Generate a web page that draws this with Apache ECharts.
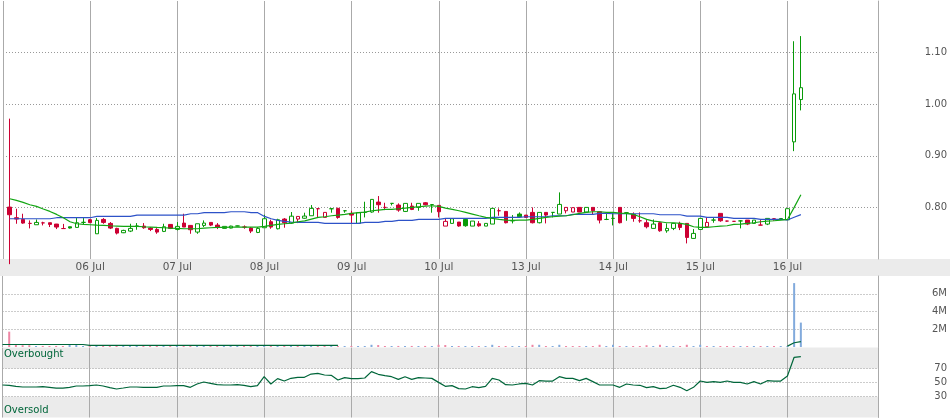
<!DOCTYPE html>
<html><head><meta charset="utf-8">
<script src="https://cdn.jsdelivr.net/npm/echarts@6.0.0/dist/echarts.min.js"></script>
<style>html,body{margin:0;padding:0;background:#fff}#c{width:950px;height:418px}</style>
</head><body><div id="c"></div>
<script>
// ---- data ----
const dayLabels = ['06 Jul','07 Jul','08 Jul','09 Jul','10 Jul','13 Jul','14 Jul','15 Jul','16 Jul'];
const barsPerDay = 13;
const firstBar = 1;           // bar index of the first candle
const lastSlot = 130.5;       // visible bar slots on the time axis
const opens = [.8006,.7800,.7767,.7690,.7664,.7700,.7703,.7677,.7590,.7625,.7612,.7710,.7761,.7489,.7767,.7690,.7593,.7509,.7541,.7638,
.7638,.7599,.7573,.7535,.7670,.7573,.7696,.7651,.7522,.7651,.7709,.7657,.7593,.7599,.7640,.7619,.7599,.7515,.7606,.7722,
.7586,.7774,.7696,.7774,.7790,.7838,.7975,.7806,.7974,.7981,.7935,.7884,.7690,.7903,.7910,.8103,.8000,.8078,.8045,.7922,
.8026,.8000,.8090,.8055,.8039,.7638,.7690,.7716,.7767,.7638,.7683,.7638,.7677,.7935,.7922,.7741,.7871,.7851,.7903,.7703,
.7903,.7903,.7871,.7935,.7910,.8000,.7910,.8000,.7916,.7767,.7787,.8000,.7897,.7864,.7741,.7703,.7593,.7703,.7547,.7593,
.7690,.7690,.7399,.7573,.7625,.7754,.7884,.7735,.7730,.7738,.7754,.7690,.7657,.7677,.7780,.7785,.7760,.927,1.009];
const closes = [.7858,.7774,.7696,.7690,.7709,.7700,.7670,.7619,.7590,.7600,.7703,.7710,.7705,.7748,.7709,.7599,.7502,.7554,.7593,.7638,
.7606,.7573,.7522,.7625,.7593,.7632,.7619,.7567,.7683,.7696,.7657,.7619,.7632,.7638,.7640,.7619,.7541,.7593,.7780,.7619,
.7761,.7703,.7830,.7825,.7832,.7981,.7975,.7903,.7974,.7806,.7935,.7851,.7897,.7903,.8155,.8052,.8000,.8078,.7948,.8078,
.7961,.8078,.8052,.8055,.7916,.7729,.7780,.7640,.7645,.7735,.7644,.7690,.7981,.7935,.7703,.7741,.7819,.7806,.7703,.7903,
.7851,.7903,.8058,.8000,.7995,.7910,.8000,.7935,.7754,.7767,.7787,.7703,.7897,.7787,.7741,.7625,.7677,.7547,.7593,.7690,
.7612,.7418,.7496,.7787,.7709,.7754,.7741,.7735,.7730,.7738,.7677,.7754,.7657,.7787,.7780,.7785,.7975,1.020,1.032];
const lows = [.69,.7683,.7683,.7593,.7664,.7651,.7619,.7580,.7586,.7590,.7612,.7664,.7696,.7489,.7683,.7580,.7476,.7502,.7522,.7567,
.7586,.7541,.7489,.7522,.7580,.7554,.7619,.7489,.7489,.7619,.7638,.7580,.7593,.7593,.7635,.7586,.7502,.7502,.7606,.7586,
.7573,.7606,.7683,.7696,.7780,.7838,.7806,.7806,.7897,.7780,.7897,.7690,.7690,.7806,.7897,.7897,.7948,.8039,.7916,.7910,
.7948,.7935,.8039,.7897,.7806,.7638,.7690,.7625,.7625,.7638,.7625,.7638,.7677,.7838,.7690,.7690,.7819,.7806,.7690,.7690,
.7690,.7806,.7871,.7884,.7910,.7910,.7910,.7871,.7690,.7754,.7651,.7690,.7741,.7722,.7703,.7593,.7593,.7528,.7509,.7560,
.7560,.7302,.7399,.7573,.7625,.7703,.7722,.7722,.7722,.7593,.7657,.7690,.7657,.7657,.7741,.7754,.7760,.909,.988];
const highs = [.972,.7974,.7877,.7748,.7767,.7722,.7703,.7680,.7680,.7625,.7793,.7793,.7774,.7793,.7793,.7716,.7606,.7567,.7683,.7696,
.7696,.7619,.7599,.7683,.7670,.7716,.7877,.7651,.7683,.7748,.7709,.7696,.7632,.7645,.7645,.7651,.7619,.7619,.7858,.7761,
.7780,.7793,.7910,.7825,.7897,.8045,.7981,.7903,.7974,.7994,.7948,.7935,.7897,.8110,.8155,.8220,.8090,.8078,.8078,.8078,
.8090,.8078,.8103,.8055,.8039,.7787,.7780,.7716,.7787,.7735,.7735,.7690,.7981,.7981,.7922,.7851,.7903,.7851,.8000,.7903,
.7903,.7903,.8291,.8000,.8000,.8000,.8000,.8000,.7916,.7884,.7903,.8000,.7897,.7903,.7903,.7754,.7767,.7722,.7690,.7690,
.7722,.7690,.7580,.7787,.7806,.7806,.7884,.7741,.7735,.7754,.7754,.7754,.7754,.7787,.7787,.7785,.7975,1.122,1.132];
const volumesM = [1.73,0.22,0.2,0.2,0.1,0.12,0.1,0.12,0.1,0.25,0.22,0.1,0.12,0.1,0.1,0.1,0.12,0.1,0.1,0.1,
0.12,0.1,0.1,0.1,0.12,0.1,0.1,0.12,0.1,0.1,0.12,0.1,0.1,0.1,0.1,0.1,0.12,0.1,0.1,0.12,
0.1,0.1,0.1,0.12,0.1,0.1,0.12,0.1,0.1,0.12,0.1,0.12,0.1,0.1,0.25,0.22,0.1,0.1,0.12,0.1,
0.12,0.1,0.12,0.1,0.25,0.22,0.1,0.1,0.1,0.1,0.1,0.1,0.25,0.1,0.1,0.1,0.1,0.1,0.25,0.25,
0.1,0.1,0.25,0.1,0.1,0.1,0.1,0.1,0.25,0.1,0.25,0.1,0.1,0.1,0.1,0.2,0.1,0.25,0.1,0.1,
0.1,0.25,0.1,0.25,0.1,0.1,0.1,0.1,0.1,0.1,0.1,0.1,0.1,0.1,0.1,0.1,0.1,7.2,2.75];
const maFast = [.8168,.8136,.8097,.8052,.8019,.7968,.7922,.7864,.7800,.7722,.7683,.7670,.7664,.7657,.7651,.7644,.7638,.7632,.7632,.7632,
.7625,.7619,.7612,.7606,.7599,.7593,.7586,.7586,.7586,.7599,.7606,.7612,.7612,.7619,.7619,.7619,.7619,.7619,.7632,.7651,
.7670,.7683,.7696,.7722,.7740,.7774,.7806,.7819,.7838,.7851,.7864,.7884,.7897,.7910,.7935,.7948,.7961,.7961,.7974,.7987,
.8000,.8013,.8026,.8032,.8019,.7987,.7961,.7935,.7903,.7871,.7838,.7806,.7787,.7767,.7754,.7748,.7754,.7754,.7767,.7787,
.7806,.7819,.7832,.7838,.7858,.7884,.7903,.7916,.7916,.7903,.7903,.7890,.7884,.7864,.7819,.7767,.7735,.7722,.7703,.7703,
.7690,.7670,.7625,.7612,.7612,.7625,.7638,.7644,.7670,.7677,.7690,.7703,.7722,.7735,.7741,.7754,.7767,.8000,.8246];
const maSlow = [.7780,.7780,.7780,.7780,.7780,.7780,.7780,.7800,.7800,.7800,.7800,.7800,.7800,.7825,.7825,.7825,.7825,.7825,.7825,.7851,
.7851,.7851,.7851,.7851,.7851,.7851,.7851,.7877,.7877,.7897,.7897,.7897,.7897,.7916,.7916,.7916,.7897,.7897,.7825,.7780,
.7748,.7728,.7716,.7709,.7709,.7709,.7709,.7690,.7690,.7690,.7690,.7690,.7690,.7709,.7709,.7709,.7729,.7729,.7748,.7748,
.7748,.7767,.7767,.7767,.7767,.7787,.7787,.7787,.7787,.7787,.7787,.7787,.7806,.7806,.7806,.7806,.7806,.7819,.7819,.7819,
.7819,.7838,.7838,.7838,.7864,.7864,.7864,.7864,.7884,.7884,.7877,.7877,.7877,.7877,.7877,.7877,.7877,.7858,.7858,.7858,
.7858,.7832,.7832,.7832,.7806,.7806,.7806,.7806,.7787,.7787,.7787,.7787,.7767,.7767,.7767,.7767,.7756,.781,.786];
// RSI and volume average start one slot earlier (bar index 0)
const rsi = [46.4,46.0,44.5,43.6,43.6,43.6,44.0,43.1,42.1,42.1,43.1,45.0,45.0,45.5,46.4,45.0,42.6,40.7,42.1,43.6,
43.6,43.1,43.1,43.1,45.0,45.0,45.5,45.5,43.1,47.9,50.7,48.8,46.9,46.4,46.4,46.9,46.0,44.0,45.5,58.3,
47.9,55.5,52.1,56.0,57.4,57.4,62.1,63.1,60.7,60.2,53.6,56.9,55.5,55.5,56.4,65.5,61.7,59.7,58.3,54.5,
58.3,54.5,56.9,56.4,55.9,50.2,44.5,45.5,41.2,40.7,44.0,42.6,44.5,55.9,53.6,46.9,46.4,47.9,48.8,46.4,
52.6,52.1,52.1,58.3,55.9,55.9,52.6,55.9,51.2,46.4,46.4,46.4,43.1,47.9,46.4,46.0,42.6,44.0,41.2,42.1,
46.0,43.1,38.3,43.1,52.1,50.2,51.2,50.2,52.1,50.2,50.2,47.9,51.2,47.9,52.6,52.1,52.1,59.3,86.0,86.9];
const volAvgM = [0.28,0.28,0.28,0.28,0.28,0.28,0.28,0.28,0.28,0.28,0.28,0.28,0.28,0.19,0.19,0.19,0.19,0.19,0.19,0.19,
0.19,0.19,0.19,0.19,0.19,0.19,0.19,0.19,0.19,0.19,0.19,0.19,0.19,0.19,0.19,0.19,0.19,0.19,0.19,0.19,
0.19,0.19,0.19,0.19,0.19,0.19,0.19,0.19,0.19,0.19,0.19,null,null,null,null,null,null,null,null,null,
null,null,null,null,null,null,null,null,null,null,null,null,null,null,null,null,null,null,null,null,
null,null,null,null,null,null,null,null,null,null,null,null,null,null,null,null,null,null,null,null,
null,null,null,null,null,null,null,null,null,null,null,null,null,null,null,null,null,0.1,0.48,0.6];
const priceTicks = [0.8, 0.9, 1.0, 1.1];
const volTicksM = [2, 4, 6];
const rsiTicks = [30, 50, 70];

// ---- styles ----
const GREEN = '#089a08', RED = '#cc0033', PINK = '#ee86a4', BLUE = '#82aadc';
const MAG = '#12a512', MAB = '#2d52c8', DK = '#00663a';
const GRID_V = '#aaaaaa', GRID_H = '#999999', TXT = '#555555', BAND = '#ebebeb';
const FONT = 'DejaVu Sans';

const dirUp = closes.map((c, k) => c > (k > 0 ? closes[k - 1] : opens[k]));
const candleData = opens.map((o, k) => {
  const c = closes[k];
  const col = dirUp[k] ? GREEN : RED;
  const fill = c >= o ? '#ffffff' : col;
  return { value: [k + firstBar, o, c, lows[k], highs[k]],
    itemStyle: { color: fill, color0: fill, borderColor: col, borderColor0: col, borderColorDoji: col } };
});
const volData = volumesM.map((v, k) => ({ value: [k + firstBar, v * 1e6], itemStyle: { color: dirUp[k] ? BLUE : PINK } }));
const lineData = (arr, start) => arr.map((v, k) => [k + start, v]);

const nTicks = Math.floor(lastSlot / barsPerDay) + 1;
const vColors = [];
for (let k = 0; k < nTicks + 1; k++) vColors.push(k < dayLabels.length + 1 ? GRID_V : 'rgba(0,0,0,0)');

const grids = [
  { left: 2.5, width: 876.8, top: 1, height: 258 },
  { left: 2.5, width: 876.8, top: 276, height: 71 },
  { left: 2.5, width: 876.8, top: 347.5, height: 70 }
];
const xAxis = grids.map((g, gi) => ({
  type: 'value', gridIndex: gi, min: 0, max: lastSlot, interval: barsPerDay,
  axisLine: { show: false }, axisTick: { show: false },
  splitLine: { show: true, lineStyle: { color: vColors, width: 1, type: 'solid' } },
  axisLabel: { show: gi === 0, margin: 3, color: TXT, fontSize: 10.5, fontFamily: FONT,
    formatter: v => { const k = v / barsPerDay - 1; return (Number.isInteger(k) && dayLabels[k]) || ''; } }
}));
function hColors(min, max, step, ticks) {
  const out = [];
  for (let v = min; v <= max + step / 2; v += step) out.push(ticks.some(t => Math.abs(t - v) < step / 10) ? GRID_H : 'rgba(0,0,0,0)');
  return out;
}
const yBase = (gi, min, max, step, ticks, fmt) => ({
  type: 'value', gridIndex: gi, position: 'right', min, max, interval: step,
  axisLine: { show: true, onZero: false, lineStyle: { color: GRID_V, width: 1 } },
  axisTick: { show: false },
  splitLine: { show: true, lineStyle: { color: hColors(min, max, step, ticks), width: 1, type: [1, 2] } },
  axisLabel: { align: 'right', margin: 69, color: TXT, fontSize: 10, fontFamily: FONT,
    formatter: v => ticks.some(t => Math.abs(t - v) < step / 10) ? fmt(v) : '' }
});
const yAxis = [
  yBase(0, 0.7, 1.2, 0.1, priceTicks, v => v.toFixed(2)),
  yBase(1, 0, 8e6, 2e6, volTicksM.map(t => t * 1e6), v => Math.round(v / 1e6) + 'M'),
  Object.assign(yBase(2, 0, 100, 10, rsiTicks, v => String(Math.round(v))), {
    z: -1,
    splitArea: { show: true, areaStyle: { color: [BAND, BAND, BAND, '#ffffff', '#ffffff', '#ffffff', '#ffffff', BAND, BAND, BAND] } }
  })
];

const chart = echarts.init(document.getElementById('c'), null, { renderer: 'canvas' });
chart.setOption({
  animation: false,
  backgroundColor: '#ffffff',
  grid: grids,
  xAxis, yAxis,
  graphic: [
    { type: 'rect', z: -10, shape: { x: 0, y: 259, width: 950, height: 17 }, style: { fill: BAND } },
    { type: 'text', left: 4, top: 349, style: { text: 'Overbought', fill: DK, font: '10px "DejaVu Sans"' } },
    { type: 'text', left: 4, top: 405, style: { text: 'Oversold', fill: DK, font: '10px "DejaVu Sans"' } }
  ],
  series: [
    { type: 'candlestick', xAxisIndex: 0, yAxisIndex: 0, data: candleData, encode: { x: 0, y: [1, 2, 3, 4] },
      barWidth: 4, clip: true, itemStyle: { borderWidth: 1 } },
    { type: 'line', xAxisIndex: 0, yAxisIndex: 0, data: lineData(maSlow, firstBar), showSymbol: false,
      lineStyle: { color: MAB, width: 1.2 }, z: 3 },
    { type: 'line', xAxisIndex: 0, yAxisIndex: 0, data: lineData(maFast, firstBar), showSymbol: false,
      lineStyle: { color: MAG, width: 1.2 }, z: 3 },
    { type: 'bar', xAxisIndex: 1, yAxisIndex: 1, data: volData, barWidth: 2, barMinHeight: 1 },
    { type: 'line', xAxisIndex: 1, yAxisIndex: 1, data: lineData(volAvgM.map(v => v == null ? null : v * 1e6), 0),
      showSymbol: false, connectNulls: false, lineStyle: { color: DK, width: 1.2 }, z: 3 },
    { type: 'line', xAxisIndex: 2, yAxisIndex: 2, data: lineData(rsi, 0), showSymbol: false,
      lineStyle: { color: DK, width: 1.2 } }
  ]
});
</script>
</body></html>
